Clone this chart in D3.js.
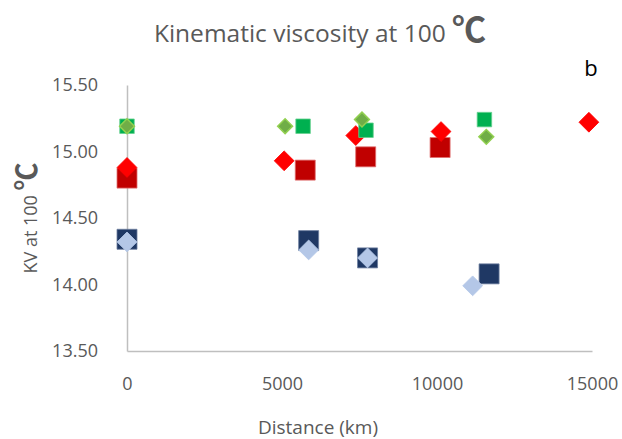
<!DOCTYPE html>
<html>
<head>
<meta charset="utf-8">
<script src="https://cdn.jsdelivr.net/npm/d3@7"></script>
<style>
  body { margin: 0; background: #fff; }
  text { font-family: "Open Sans", "Noto Sans", sans-serif; fill: #595959; }
</style>
</head>
<body>
<div id="viz"></div>
<script>
// distances (km) and KV values per series
const distDarkRed = [0, 5750, 7700, 10100];
const kvDarkRed   = [14.80, 14.86, 14.96, 15.03];
const distRed     = [0, 5070, 7380, 10130, 14900];
const kvRed       = [14.88, 14.93, 15.12, 15.15, 15.22];
const distNavy    = [0, 5860, 7760, 11680];
const kvNavy      = [14.34, 14.33, 14.20, 14.08];
const distBlue    = [0, 5860, 7760, 11150];
const kvBlue      = [14.32, 14.26, 14.20, 13.99];
const distGreen   = [0, 5680, 7710, 11530];
const kvGreen     = [15.19, 15.19, 15.16, 15.24];
const distLime    = [0, 5100, 7580, 11590];
const kvLime      = [15.19, 15.19, 15.24, 15.11];

const xTicks = [0, 5000, 10000, 15000];
const yTicks = [13.5, 14.0, 14.5, 15.0, 15.5];

const W = 622, H = 439;

const svg = d3.select("#viz").append("svg")
    .attr("width", W)
    .attr("height", H);

const x = d3.scaleLinear().domain([0, 15000]).range([127, 592]);
const y = d3.scaleLinear().domain([13.5, 15.5]).range([351, 85]);

// axes
const xAxis = svg.append("g")
    .attr("transform", `translate(0,${y(13.5)})`)
    .call(d3.axisBottom(x).tickValues(xTicks).tickSize(0).tickPadding(26).tickFormat(d3.format("d")));
const yAxis = svg.append("g")
    .attr("transform", `translate(${x(0)},0)`)
    .call(d3.axisLeft(y).tickValues(yTicks).tickSize(0).tickPadding(29).tickFormat(d3.format(".2f")));

[xAxis, yAxis].forEach(g => {
    g.select(".domain").attr("stroke", "#bfbfbf").attr("stroke-width", 1.5);
    g.selectAll("text").style("font-size", "18px").attr("fill", "#595959");
});

// series: order matters for overlap
const series = [
    { xs: distDarkRed, ys: kvDarkRed, shape: "square", size: 20, fill: "#c00000", stroke: "#e07070" },
    { xs: distRed,     ys: kvRed,     shape: "diamond", size: 14, fill: "#ff0000", stroke: "#ff0000" },
    { xs: distNavy,    ys: kvNavy,    shape: "square", size: 20, fill: "#1f3864", stroke: "#6d7fa0" },
    { xs: distBlue,    ys: kvBlue,    shape: "diamond", size: 14, fill: "#b4c7e7", stroke: "#b4c7e7" },
    { xs: distGreen,   ys: kvGreen,   shape: "square", size: 14.5, fill: "#00b050", stroke: "#66d08f" },
    { xs: distLime,    ys: kvLime,    shape: "diamond", size: 10.5, fill: "#70ad47", stroke: "#92d050" }
];

series.forEach(s => {
    const pts = s.xs.map((d, i) => [d, s.ys[i]]);
    const sym = d3.symbol().type(d3.symbolSquare).size(s.size * s.size);
    svg.append("g").selectAll("path")
        .data(pts)
        .enter()
        .append("path")
        .attr("d", sym)
        .attr("transform", d => `translate(${x(d[0])},${y(d[1])})` + (s.shape == "diamond" ? " rotate(45)" : ""))
        .attr("fill", s.fill)
        .attr("stroke", s.stroke)
        .attr("stroke-width", s.shape == "diamond" && s.size < 12 ? 1.5 : 0.8);
});

// title
const title = svg.append("text")
    .attr("x", 320)
    .attr("y", 42)
    .attr("text-anchor", "middle")
    .style("font-size", "24.5px");
title.append("tspan").text("Kinematic viscosity at 100 ");
title.append("tspan").text("℃").style("font-size", "34px").style("font-family", "'Noto Sans CJK SC'").style("font-weight", "bold");

// panel letter
svg.append("text")
    .attr("x", 591)
    .attr("y", 76)
    .attr("text-anchor", "middle")
    .style("font-size", "22px")
    .style("fill", "#000")
    .text("b");

// axis titles
svg.append("text")
    .attr("x", 318)
    .attr("y", 434)
    .attr("text-anchor", "middle")
    .style("font-size", "19px")
    .text("Distance (km)");

const yt = svg.append("text")
    .attr("transform", "translate(37,218) rotate(-90)")
    .attr("text-anchor", "middle")
    .style("font-size", "18px");
yt.append("tspan").text("KV at 100 ");
yt.append("tspan").text("℃").style("font-size", "28px").style("font-family", "'Noto Sans CJK SC'").style("font-weight", "bold");
</script>
</body>
</html>
